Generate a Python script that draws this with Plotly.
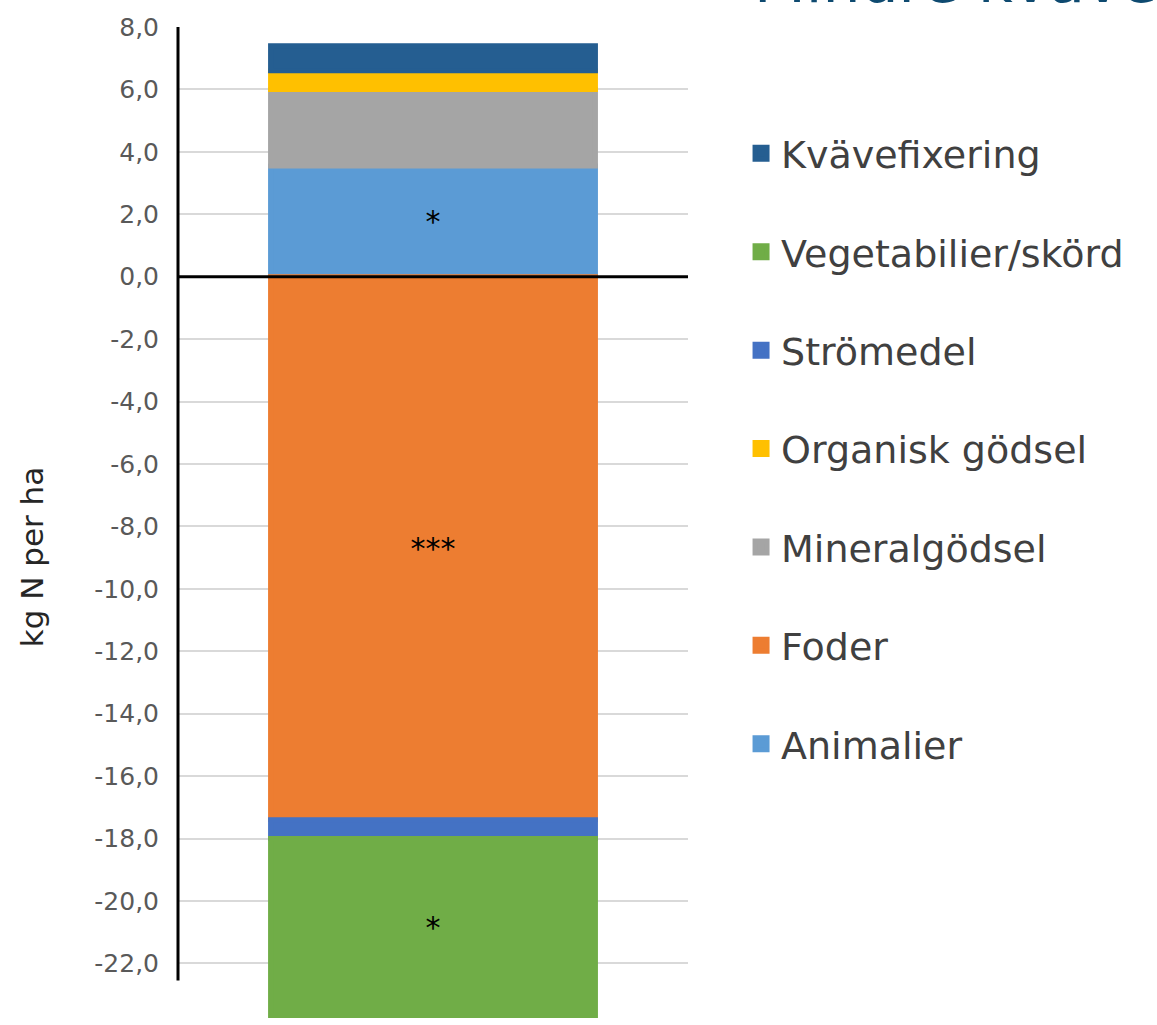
import plotly.graph_objects as go

category = [""]
series_names = ["Animalier", "Foder", "Mineralgödsel", "Organisk gödsel",
                "Strömedel", "Vegetabilier/skörd", "Kvävefixering"]
series_values = [3.55, -17.4, 2.45, 0.6, -0.6, -5.7, 0.8]
series_colors = ["#5B9BD5", "#ED7D31", "#A5A5A5", "#FFC000",
                 "#4472C4", "#70AD47", "#255E91"]
series_marks = ["*", "***", "", "", "", "*", ""]
legend_ranks = [7, 6, 5, 4, 3, 2, 1]

tick_vals = [8, 6, 4, 2, 0, -2, -4, -6, -8, -10, -12, -14, -16, -18, -20, -22]
tick_text = ["8,0", "6,0", "4,0", "2,0", "0,0", "-2,0", "-4,0", "-6,0", "-8,0",
             "-10,0", "-12,0", "-14,0", "-16,0", "-18,0", "-20,0", "-22,0"]

FONT = "DejaVu Sans"

fig = go.Figure()
for name, val, col, mark, rank in zip(series_names, series_values, series_colors,
                                      series_marks, legend_ranks):
    fig.add_trace(go.Bar(
        x=category, y=[val], name=name, legendgroup=name, legendrank=rank,
        marker=dict(color=col, line=dict(width=5, color=col)),
        text=[mark], textposition="inside", insidetextanchor="middle",
        textangle=0, textfont=dict(color="#000000", size=30, family=FONT),
        constraintext="none",
    ))

fig.update_layout(
    width=1157, height=1025,
    barmode="relative", bargap=0.363,
    plot_bgcolor="white", paper_bgcolor="white",
    margin=dict(l=178, r=469, t=27, b=7, autoexpand=False),
    font=dict(family=FONT, color="#595959"),
    showlegend=True,
    legend=dict(
        x=1.104, y=0.904, xanchor="left", yanchor="top",
        traceorder="grouped", tracegroupgap=46,
        font=dict(size=38, color="#404040", family=FONT),
        bgcolor="rgba(0,0,0,0)",
    ),
    xaxis=dict(showticklabels=False, showgrid=False, zeroline=False,
               showline=False, automargin=False),
    yaxis=dict(
        range=[-23.75, 8.0], tickvals=tick_vals, ticktext=tick_text,
        tickfont=dict(size=25, color="#595959", family=FONT),
        showgrid=True, gridcolor="#D9D9D9", gridwidth=2,
        zeroline=False, showline=False, ticks="", ticklabelstandoff=18,
        automargin=False,
    ),
)

# black zero line across the plot, and the left axis line
fig.add_shape(type="line", xref="paper", yref="y", x0=0, x1=1, y0=0, y1=0,
              line=dict(color="black", width=3), layer="above")
fig.add_shape(type="line", xref="paper", yref="y", x0=0, x1=0, y0=-22.55, y1=8,
              line=dict(color="black", width=3), layer="above")

# axis title
fig.add_annotation(text="kg N per ha", xref="paper", yref="paper",
                   x=-0.286, y=0.465, xanchor="center", yanchor="middle",
                   textangle=-90, showarrow=False,
                   font=dict(size=31, color="#262626", family=FONT))

# cut-off slide title at top right
fig.add_annotation(text="Mindre kväve", xref="paper", yref="paper",
                   x=1.1255, y=1, xanchor="left", yanchor="bottom", yshift=9,
                   showarrow=False,
                   font=dict(size=60, color="#0E4A70", family=FONT))

fig.write_html("out.html", config={"displayModeBar": False},
               post_script="document.body.style.margin='0';")
